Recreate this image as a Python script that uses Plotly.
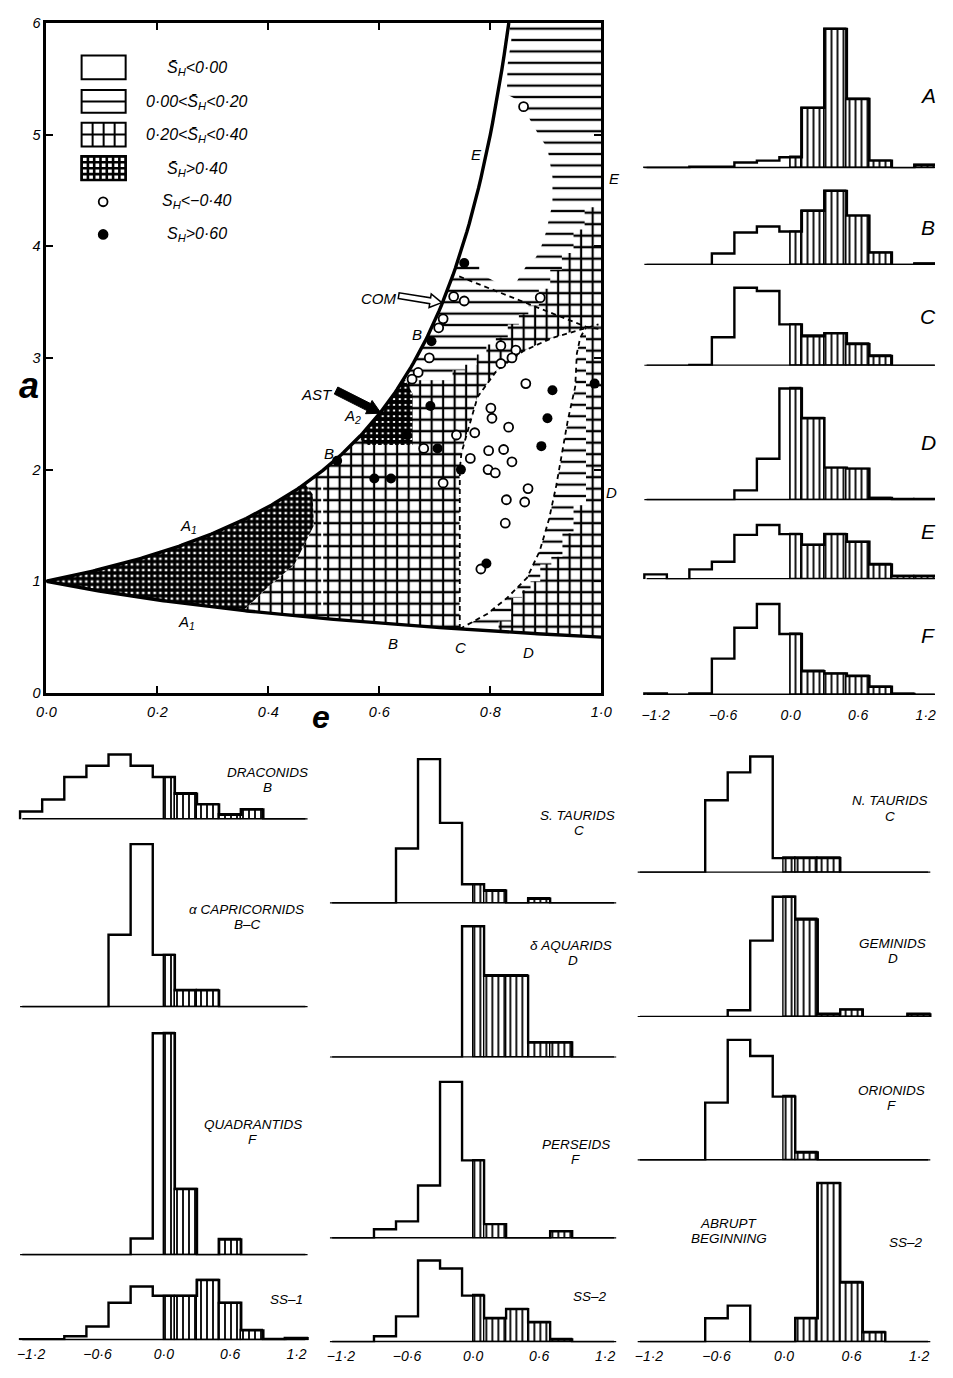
import numpy as np
import plotly.graph_objects as go

# page is photographed with the default 8px body margin, so the figure is 16px smaller
# than the window and every reference pixel position is shifted by that margin
PAGE_W, PAGE_H, OFF = 953, 1378, 8
W, H = PAGE_W - 2 * OFF, PAGE_H - 2 * OFF
FONT = "Liberation Sans"

# ================= S_H histograms (relative frequency, arbitrary units) =================
bin_centers = [-1.2, -1.0, -0.8, -0.6, -0.4, -0.2, 0.0, 0.2, 0.4, 0.6, 0.8, 1.0, 1.2]
hist_tick_vals = [-1.2, -0.6, 0.0, 0.6, 1.2]
hist_tick_text = ["−1·2", "−0·6", "0·0", "0·6", "1·2"]

zone_A = [0.5, 0.5, 1.5, 1.5, 5.7, 7.7, 11, 61, 141, 70, 7.7, 0, 3.3]
zone_B = [0, 0, 0, 11.7, 33, 39, 34, 55, 75, 50, 12.7, 0, 1.5]
zone_C = [0, 0, 0.8, 29, 79, 75.7, 42, 30, 33, 22, 10, 0, 0]
zone_D = [0, 0, 0, 0, 10, 42, 113, 83, 33, 32, 2.3, 0.8, 0.8]
zone_E = [5, 0, 10, 17.7, 45, 55, 45.7, 35, 45.7, 38, 15, 3.3, 3.3]
zone_F = [1.5, 0, 1.5, 36.7, 68, 92, 61.7, 24, 21.7, 19, 8.3, 1, 0]

draconids = [8.1, 20.2, 43, 54.4, 65.7, 54.4, 43, 26, 15.3, 4.8, 10, 0, 0]
capricornids = [0, 0, 0, 0, 73.4, 165, 53, 17, 17, 0, 0, 0, 0]
quadrantids = [0, 0, 0, 0, 0, 17, 224.6, 67, 0, 16, 0, 0, 0]
ss1 = [1, 1, 4, 14, 38, 54.4, 45, 45, 61, 38, 10, 1, 2]
s_taurids = [0, 0, 0, 55.6, 146, 81.5, 19.4, 12.9, 0, 4.8, 0, 0, 0]
d_aquarids = [0, 0, 0, 0, 0, 0, 133, 82.7, 82.7, 15.3, 15.3, 0, 0]
perseids = [0, 0, 9.3, 17.3, 53.6, 158.5, 79, 14.5, 0, 0, 7.3, 0, 0]
ss2 = [0, 0, 6, 26.2, 82.7, 74.6, 47.2, 24.2, 33.5, 20.2, 2.8, 0, 0]
n_taurids = [0, 0, 0, 73.4, 101.6, 117.7, 14.9, 14.9, 14.9, 0, 0, 0, 0]
geminids = [0, 0, 0, 0, 6.9, 77.4, 121.8, 98.8, 2.8, 7.7, 0, 0, 2.8]
orionids = [0, 0, 0, 58.5, 122, 105.6, 64.5, 8, 0, 0, 0, 0, 0]
abrupt_ss2 = [0, 0, 0, 24.2, 37, 0, 0, 24.2, 161, 60.5, 10, 0, 0]

# ================= (e, a) map data =================
open_e = [0.860, 0.734, 0.753, 0.890, 0.715, 0.707, 0.819, 0.846, 0.690, 0.819, 0.839,
          0.670, 0.659, 0.864, 0.801, 0.803, 0.739, 0.772, 0.680, 0.833, 0.797, 0.824,
          0.764, 0.839, 0.796, 0.809, 0.715, 0.868, 0.829, 0.862, 0.827, 0.783]
open_a = [5.25, 3.55, 3.51, 3.54, 3.35, 3.27, 3.11, 3.07, 3.00, 2.95, 3.00,
          2.87, 2.81, 2.77, 2.55, 2.46, 2.31, 2.33, 2.19, 2.38, 2.17, 2.18,
          2.10, 2.07, 2.00, 1.97, 1.88, 1.83, 1.73, 1.71, 1.52, 1.11]
filled_e = [0.753, 0.694, 0.692, 0.705, 0.747, 0.912, 0.903, 0.892, 0.988, 0.591, 0.621,
            0.793, 0.650, 0.524]
filled_a = [3.85, 3.15, 2.57, 2.19, 2.00, 2.71, 2.46, 2.21, 2.77, 1.92, 1.92,
            1.16, 2.31, 2.08]

# zone boundaries
h_edge_e = [0.8333, 0.838, 0.831, 0.830, 0.853, 0.865, 0.877, 0.889, 0.903, 0.912, 0.912,
            0.900, 0.892, 0.882, 0.868, 0.857, 0.847, 0.810, 0.780, 0.780]
h_edge_a = [6.0, 5.85, 5.62, 5.36, 5.30, 5.19, 5.09, 4.98, 4.88, 4.62, 4.38,
            4.12, 4.00, 3.90, 3.85, 3.76, 3.68, 3.68, 3.76, 3.88]
fine_edge_e = [0.466, 0.480, 0.482, 0.447, 0.400, 0.355]
fine_edge_a = [1.873, 1.78, 1.50, 1.15, 0.95, 0.738]
stair_e = [0.98, 0.96, 0.94, 0.918, 0.898, 0.877, 0.86, 0.843, 0.82, 0.80, 0.786, 0.765, 0.744, 0.72]
stair_a = [4.35, 4.15, 3.94, 3.79, 3.62, 3.47, 3.39, 3.30, 3.18, 3.12, 3.03, 2.94, 2.89, 2.80]
br_e = [0.985, 0.96, 0.94, 0.92, 0.90, 0.88, 0.865, 0.85, 0.825]
br_a = [3.27, 1.68, 1.43, 1.22, 1.15, 1.00, 0.92, 0.85, 0.64]
a2_e = [0.660, 0.660, 0.580, 0.562]
a2_a = [2.68, 2.22, 2.22, 2.28]
dashC_e = [0.745, 0.745, 0.748, 0.760, 0.777, 0.812, 0.859, 0.912, 0.972]
dashC_a = [0.573, 2.00, 2.15, 2.35, 2.65, 2.89, 3.06, 3.18, 3.27]
dashD_e = [0.745, 0.770, 0.795, 0.830, 0.866, 0.889, 0.906, 0.919, 0.930, 0.940, 0.953, 0.956, 0.962, 0.972]
dashD_a = [0.573, 0.64, 0.71, 0.85, 1.03, 1.27, 1.56, 1.86, 2.15, 2.45, 2.74, 3.04, 3.18, 3.27]
com_e = [0.744, 0.972, 0.995]
com_a = [3.73, 3.28, 3.26]


def U(e):
    return 1.0 / (1.0 - e)


def L(e):
    return 1.0 / (1.0 + e)


def cx_(x):
    return min(max(x, OFF), PAGE_W - OFF)


def fx(x):
    return (x - OFF) / W


def fy(y):
    return 1 - (y - OFF) / H


fig = go.Figure()

# ---------------- main panel axes ----------------
MX0, MX1, MY0, MY1 = 37, 604, 15, 693
axfont = dict(family=FONT, size=14.5, color="black", style="italic")
fig.update_layout(
    xaxis=dict(domain=[fx(MX0), fx(MX1)], range=[0, 1], tickvals=[0, 0.2, 0.4, 0.6, 0.8, 1.0],
               ticktext=["0·0", "0·2", "0·4", "0·6", "0·8", "1·0"], ticks="inside", ticklen=7,
               tickwidth=2, tickcolor="black", showline=True, linewidth=3, linecolor="black",
               mirror="ticks", showgrid=False, zeroline=False, tickfont=axfont, anchor="y",
               ticklabelstandoff=4, ticklabeloverflow="allow"),
    yaxis=dict(domain=[fy(MY1), fy(MY0)], range=[0, 6], tickvals=[0, 1, 2, 3, 4, 5, 6],
               ticktext=["0", "1", "2", "3", "4", "5", "6"], ticks="inside", ticklen=7,
               tickwidth=2, tickcolor="black", showline=True, linewidth=3, linecolor="black",
               mirror="ticks", showgrid=False, zeroline=False, tickfont=axfont, anchor="x",
               ticklabeloverflow="allow"),
)


def poly(xs, ys, shape, size, solidity, color="black"):
    xs = list(xs) + [xs[0]]
    ys = list(ys) + [ys[0]]
    if shape is None:
        fig.add_trace(go.Scatter(x=xs, y=ys, mode="lines", fill="toself", fillcolor=color,
                                 line=dict(width=0), hoverinfo="skip", xaxis="x", yaxis="y"))
    else:
        fig.add_trace(go.Scatter(x=xs, y=ys, mode="lines", fill="toself", fillcolor="white",
                                 fillpattern=dict(shape=shape, size=size, solidity=solidity,
                                                  fgcolor="black", bgcolor="white", fgopacity=1,
                                                  fillmode="replace"),
                                 line=dict(width=0), hoverinfo="skip", xaxis="x", yaxis="y"))


def steps(es, as_, start_e, end_e):
    px, py = [start_e], [as_[0]]
    for i in range(len(es) - 1):
        m = 0.5 * (es[i] + es[i + 1])
        px += [m, m]
        py += [as_[i], as_[i + 1]]
    px.append(end_e)
    py.append(as_[-1])
    return px, py


# horizontal-line zone 0.00 < S < 0.20
le = np.linspace(0.5, 1.0, 60)
hx = list(le) + [1.0] + h_edge_e
hy = [L(e) for e in le] + [6.0] + h_edge_a
ue = np.linspace(1 - 1 / h_edge_a[-1], 0.5, 60)
hx += list(ue)
hy += [U(e) for e in ue]
poly(hx, hy, "-", 11.4, 0.2)

# coarse grid zone 0.20 < S < 0.40
le = np.linspace(fine_edge_e[-1], dashC_e[0], 40)
gx = list(le) + dashC_e[1:] + [1.0]
gy = [L(e) for e in le] + dashC_a[1:] + [dashC_a[-1]]
sx, sy = steps(stair_e, stair_a, 1.0, 1 - 1 / stair_a[-1])
gx += sx
gy += sy
ue = np.linspace(1 - 1 / stair_a[-1], fine_edge_e[0], 40)
gx += list(ue) + fine_edge_e[1:]
gy += [U(e) for e in ue] + fine_edge_a[1:]
poly(gx, gy, "+", 11.5, 0.34)

# bottom-right grid block
sx, sy = steps(br_e, br_a, 1.0, br_e[-1] - 0.01)
le = np.linspace(br_e[-1] - 0.01, 1.0, 30)
bx = [1.0] + sx + list(le)
by = [L(1.0)] + sy + [L(e) for e in le]
poly(bx, by, "+", 11.5, 0.34)

# fine grid zone S > 0.40
ue = np.linspace(0, fine_edge_e[0], 60)
le = np.linspace(fine_edge_e[-1], 0, 60)
fxs = list(ue) + fine_edge_e[1:] + list(le)
fys = [U(e) for e in ue] + fine_edge_a[1:] + [L(e) for e in le]
poly(fxs, fys, "+", 5.7, 0.8)

# A2 fine-grid patch
ue = np.linspace(a2_e[-1], 0.645, 20)
poly(list(ue) + a2_e, [U(e) for e in ue] + a2_a, "+", 5.7, 0.86)

# S < 0 (white) zone bounded by the dashed curves
poly(dashC_e + dashD_e[::-1], dashC_a + dashD_a[::-1], None, 0, 0, color="white")

# dotted break in grid at e = 0.5
fig.add_trace(go.Scatter(x=[0.497, 0.497], y=[0.72, 1.9], mode="lines",
                         line=dict(color="white", width=2), hoverinfo="skip"))

# dashed curves
for xs, ys in [(dashC_e + [0.995], dashC_a + [3.30]), (dashD_e, dashD_a), (com_e, com_a)]:
    fig.add_trace(go.Scatter(x=xs, y=ys, mode="lines",
                             line=dict(color="black", width=1.8, dash="5px,4px"), hoverinfo="skip"))

# q = 1 and Q = 1 boundaries
ue = np.linspace(0, 1 - 1 / 6, 200)
fig.add_trace(go.Scatter(x=ue, y=1 / (1 - ue), mode="lines", line=dict(color="black", width=3.4),
                         hoverinfo="skip"))
le = np.linspace(0, 1, 200)
fig.add_trace(go.Scatter(x=le, y=1 / (1 + le), mode="lines", line=dict(color="black", width=3.4),
                         hoverinfo="skip"))

# individual meteors
fig.add_trace(go.Scatter(x=open_e, y=open_a, mode="markers",
                         marker=dict(symbol="circle", size=9, color="white",
                                     line=dict(color="black", width=1.8)), hoverinfo="skip"))
fig.add_trace(go.Scatter(x=filled_e, y=filled_a, mode="markers",
                         marker=dict(symbol="circle", size=10, color="black",
                                     line=dict(color="black", width=0)), hoverinfo="skip"))

# ---------------- histogram panels ----------------
columns = {
    "right": dict(zero=797.5, unit=115.0, left=640, right=953),
    "left": dict(zero=157.0, unit=113.0, left=0, right=318),
    "mid": dict(zero=473.0, unit=112.5, left=318, right=636),
    "rbot": dict(zero=790.7, unit=115.0, left=636, right=953),
}
panels = [
    (zone_A, "right", 162, False), (zone_B, "right", 260, False), (zone_C, "right", 362, False),
    (zone_D, "right", 498, False), (zone_E, "right", 578, False), (zone_F, "right", 695, True),
    (draconids, "left", 821, False), (capricornids, "left", 1011, False),
    (quadrantids, "left", 1262, False), (ss1, "left", 1348, True),
    (s_taurids, "mid", 906, False), (d_aquarids, "mid", 1062, False),
    (perseids, "mid", 1245, False), (ss2, "mid", 1350, True),
    (n_taurids, "rbot", 875, False), (geminids, "rbot", 1021, False),
    (orionids, "rbot", 1166, False), (abrupt_ss2, "rbot", 1350, True),
]
hfont = dict(family=FONT, size=14, color="black", style="italic")

edges = [c - 0.1 for c in bin_centers] + [bin_centers[-1] + 0.1]
for k, (vals, col, base, bottom) in enumerate(panels, start=2):
    c = columns[col]
    lpx, rpx = cx_(c["left"]), cx_(c["right"])
    top = max(base - 245, OFF + 1)
    xa, ya = f"x{k}", f"y{k}"
    fig.layout[f"xaxis{k}"] = dict(
        domain=[fx(lpx), fx(rpx)],
        range=[(lpx - c["zero"]) / c["unit"], (rpx - c["zero"]) / c["unit"]],
        anchor=ya, showgrid=False, zeroline=False, showline=False, ticks="",
        showticklabels=bottom, tickvals=hist_tick_vals, ticktext=hist_tick_text,
        tickfont=hfont, ticklabelstandoff=(10 if col == "right" else 4),
        ticklabeloverflow="allow")
    fig.layout[f"yaxis{k}"] = dict(domain=[fy(base), fy(top)], range=[0, base - top],
                                   anchor=xa, visible=False)
    nx_, ny_, nw_, px_, py_, pw_ = [], [], [], [], [], []
    for cc, v in zip(bin_centers, vals):
        if v <= 0:
            continue
        if cc < -0.01:
            nx_.append(cc); ny_.append(v); nw_.append(0.2)
        elif cc > 0.01:
            px_.append(cc); py_.append(v); pw_.append(0.2)
        else:
            nx_.append(-0.05); ny_.append(v); nw_.append(0.1)
            px_.append(0.05); py_.append(v); pw_.append(0.1)
    if nx_:
        fig.add_trace(go.Bar(x=nx_, y=ny_, width=nw_, xaxis=xa, yaxis=ya,
                             marker=dict(color="white", line=dict(width=0)), hoverinfo="skip"))
    if px_:
        fig.add_trace(go.Bar(x=px_, y=py_, width=pw_, xaxis=xa, yaxis=ya,
                             marker=dict(color="white", line=dict(color="black", width=1.4),
                                         pattern=dict(shape="|", size=6, solidity=0.3,
                                                      fgcolor="black", bgcolor="white",
                                                      fgopacity=1)),
                             hoverinfo="skip"))
    fig.add_trace(go.Scatter(x=[-1.28, 1.28], y=[0, 0], xaxis=xa, yaxis=ya, mode="lines",
                             line=dict(color="black", width=2.8), hoverinfo="skip"))
    fig.add_trace(go.Scatter(x=[edges[0]] + edges[:13] + [edges[13]], y=[0] + list(vals) + [0],
                             xaxis=xa, yaxis=ya, mode="lines", line_shape="hv",
                             line=dict(color="black", width=2.4), hoverinfo="skip"))

# ---------------- text ----------------
def ann(x, y, text, size=13, bold=False, xanchor="center"):
    fig.add_annotation(x=fx(x), y=fy(y), xref="paper", yref="paper", text=text, showarrow=False,
                       xanchor=xanchor, yanchor="middle",
                       font=dict(family=FONT, size=size, color="black", style="italic",
                                 weight="bold" if bold else "normal"))


for t, x, y in [("E", 476, 148), ("E", 617, 172), ("COM", 377, 294), ("B", 416, 330),
                ("AST", 314, 391), ("A<sub>2</sub>", 350, 413), ("B", 326, 451),
                ("A<sub>1</sub>", 182, 525), ("A<sub>1</sub>", 180, 622), ("B", 391, 643),
                ("C", 460, 647), ("D", 530, 652), ("D", 614, 490)]:
    ann(x, y, t, size=15)

ann(19, 382, "a", size=36, bold=True)
ann(318, 717, "e", size=32, bold=True)

for t, x, y in [("A", 938, 88), ("B", 938, 222), ("C", 938, 312), ("D", 938, 440),
                ("E", 938, 530), ("F", 938, 635)]:
    ann(x, y, t, size=21)

for t, x, y in [("DRACONIDS", 263, 773), ("B", 263, 789), ("α CAPRICORNIDS", 241, 912),
                ("B–C", 242, 927), ("QUADRANTIDS", 248, 1130), ("F", 248, 1145),
                ("SS–1", 282, 1307), ("S. TAURIDS", 580, 817), ("C", 581, 832),
                ("δ AQUARIDS", 573, 949), ("D", 575, 964), ("PERSEIDS", 578, 1150),
                ("F", 578, 1165), ("SS–2", 592, 1304), ("N. TAURIDS", 899, 802),
                ("C", 899, 818), ("GEMINIDS", 902, 947), ("D", 902, 962),
                ("ORIONIDS", 901, 1095), ("F", 901, 1110), ("ABRUPT", 734, 1230),
                ("BEGINNING", 734, 1245), ("SS–2", 915, 1249)]:
    ann(x, y, t, size=13.5)

# ---------------- legend of the map ----------------
shapes = []
LX0, LX1 = 73, 118
boxes = [(48, 72), (83, 106), (116, 140), (150, 174)]
for i, (y0, y1) in enumerate(boxes):
    shapes.append(dict(type="rect", xref="paper", yref="paper", x0=fx(LX0), x1=fx(LX1),
                       y0=fy(y1), y1=fy(y0), line=dict(color="black", width=2),
                       fillcolor="white", layer="above"))
    lines = []
    if i == 1:
        lines = [("h", (y0 + y1) / 2, 1.8)]
    elif i == 2:
        lines = [("v", LX0 + (LX1 - LX0) * k / 4, 2) for k in (1, 2, 3)] + [("h", (y0 + y1) / 2, 2)]
    elif i == 3:
        lines = [("v", LX0 + (LX1 - LX0) * k / 7, 2.6) for k in range(1, 7)] + \
                [("h", y0 + (y1 - y0) * k / 4, 2.6) for k in (1, 2, 3)]
    for kind, p, w in lines:
        if kind == "h":
            shapes.append(dict(type="line", xref="paper", yref="paper", x0=fx(LX0), x1=fx(LX1),
                               y0=fy(p), y1=fy(p), line=dict(color="black", width=w), layer="above"))
        else:
            shapes.append(dict(type="line", xref="paper", yref="paper", x0=fx(p), x1=fx(p),
                               y0=fy(y0), y1=fy(y1), line=dict(color="black", width=w), layer="above"))
y0, y1 = boxes[3]
shapes.append(dict(type="rect", xref="paper", yref="paper", x0=fx(LX0), x1=fx(LX1),
                   y0=fy(y1), y1=fy(y0), line=dict(color="black", width=2.6),
                   fillcolor="rgba(0,0,0,0)", layer="above"))
for (ccx, ccy, filled) in [(95, 196, False), (95, 229, True)]:
    shapes.append(dict(type="circle", xref="paper", yref="paper", x0=fx(ccx - 4.5), x1=fx(ccx + 4.5),
                       y0=fy(ccy + 4.5), y1=fy(ccy - 4.5), line=dict(color="black", width=1.8),
                       fillcolor="black" if filled else "white", layer="above"))

SB = "S\u0304<sub>H</sub>"
for t, y in [(f"{SB}&lt;0·00", 61), (f"0·00&lt;{SB}&lt;0·20", 96), (f"0·20&lt;{SB}&lt;0·40", 129),
             (f"{SB}&gt;0·40", 163), ("S<sub>H</sub>&lt;−0·40", 196), ("S<sub>H</sub>&gt;0·60", 229)]:
    ann(191, y, t, size=16)


# arrows (COM open arrow, AST filled arrow)
def arrow_path(tail, tip, shw, hhw, hl):
    tx, ty = tail
    hx_, hy_ = tip
    dx, dy = hx_ - tx, hy_ - ty
    n = (dx * dx + dy * dy) ** 0.5
    ux, uy = dx / n, dy / n
    nx2, ny2 = -uy, ux
    kx, ky = hx_ - ux * hl, hy_ - uy * hl
    pts = [(tx + nx2 * shw, ty + ny2 * shw), (kx + nx2 * shw, ky + ny2 * shw),
           (kx + nx2 * hhw, ky + ny2 * hhw), (hx_, hy_), (kx - nx2 * hhw, ky - ny2 * hhw),
           (kx - nx2 * shw, ky - ny2 * shw), (tx - nx2 * shw, ty - ny2 * shw)]
    return "M " + " L ".join(f"{fx(x):.5f},{fy(y):.5f}" for x, y in pts) + " Z"


shapes.append(dict(type="path", xref="paper", yref="paper",
                   path=arrow_path((397, 291), (441, 298), 3, 7, 12),
                   line=dict(color="black", width=1.5), fillcolor="white", layer="above"))
shapes.append(dict(type="path", xref="paper", yref="paper",
                   path=arrow_path((333, 387), (379, 410), 4, 7.5, 14),
                   line=dict(color="black", width=1), fillcolor="black", layer="above"))

fig.update_layout(shapes=shapes, width=W, height=H, margin=dict(l=0, r=0, t=0, b=0),
                  paper_bgcolor="white", plot_bgcolor="rgba(0,0,0,0)", showlegend=False,
                  barmode="overlay", bargap=0)

fig.write_html("out.html", config={"displayModeBar": False})
